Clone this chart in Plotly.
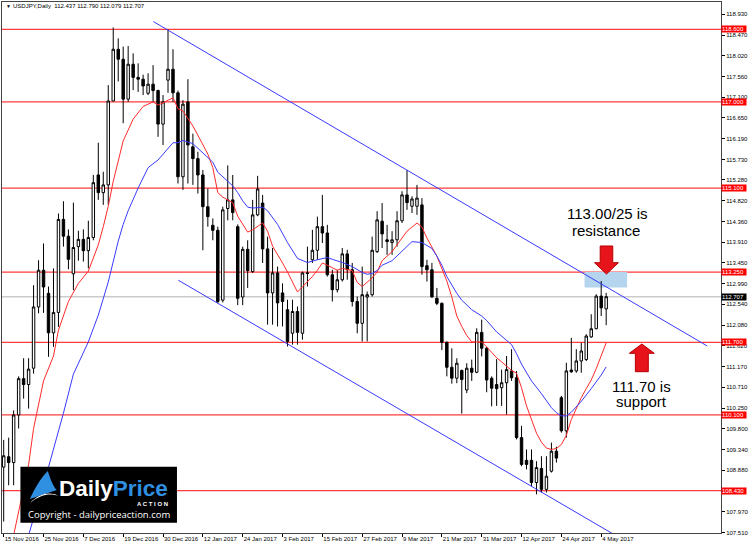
import pandas as pd
import plotly.graph_objects as go

# ---------------- data ----------------
dates = [d.strftime("%Y-%m-%d") for d in pd.bdate_range("2016-11-15", "2017-05-05")
         if d.strftime("%Y-%m-%d") not in ("2016-12-26", "2017-01-02")]

opens = [108.95, 109.18, 109.05, 110.10, 110.90, 110.77, 111.13, 112.48, 113.29, 112.78,
         111.91, 112.36, 114.41, 114.04, 113.21, 113.81, 113.97, 113.72, 114.01, 115.39,
         115.00, 115.17, 117.02, 118.16, 117.94, 117.06, 117.83, 117.54, 117.50, 117.19,
         117.39, 117.25, 116.51, 117.48, 117.72, 117.20, 115.35, 117.00, 116.01, 115.75,
         115.39, 114.69, 114.28, 114.17, 112.63, 114.65, 114.84, 114.25, 112.70, 113.75,
         113.26, 114.51, 114.77, 113.76, 112.79, 113.23, 112.79, 112.42, 111.90, 112.38,
         111.90, 113.23, 113.52, 113.73, 114.25, 114.11, 113.19, 112.86, 113.08, 113.65,
         113.30, 112.60, 112.12, 112.70, 112.75, 113.70, 114.37, 113.96, 113.90, 113.96,
         114.38, 114.95, 114.70, 114.70, 114.73, 113.39, 113.30, 112.67, 112.56, 111.70,
         111.15, 110.91, 111.08, 110.65, 111.13, 111.04, 111.92, 111.57, 110.91, 110.77,
         110.70, 110.81, 111.07, 110.92, 109.60, 109.10, 109.10, 108.61, 108.92, 108.46,
         108.86, 109.30, 110.48, 109.75, 111.09, 111.07, 111.29, 111.32, 111.82, 112.00,
         112.72, 112.437]
highs = [109.55, 109.60, 110.20, 110.95, 111.35, 111.35, 112.96, 113.51, 113.88, 112.93,
         113.33, 114.54, 114.81, 114.19, 114.78, 114.16, 114.19, 114.38, 115.39, 116.10,
         115.46, 117.37, 118.64, 118.40, 118.22, 118.23, 118.07, 117.85, 117.60, 117.63,
         117.81, 117.27, 117.15, 118.60, 118.16, 117.25, 117.04, 117.50, 116.30, 115.90,
         115.50, 115.09, 114.43, 114.25, 114.69, 115.60, 115.39, 114.30, 113.81, 113.95,
         114.84, 115.37, 114.95, 114.03, 113.78, 113.37, 113.00, 112.64, 112.64, 112.49,
         113.26, 113.81, 114.18, 114.47, 114.95, 114.29, 113.30, 113.30, 113.78, 113.74,
         113.45, 112.71, 113.37, 112.82, 114.03, 114.59, 114.77, 114.29, 114.15, 114.59,
         115.03, 115.50, 114.92, 115.17, 114.88, 113.52, 113.45, 112.90, 112.58, 111.72,
         111.57, 111.35, 111.10, 111.24, 111.32, 112.01, 112.20, 111.60, 110.95, 111.33,
         111.10, 111.40, 111.55, 111.07, 109.86, 109.34, 109.34, 109.08, 109.19, 109.19,
         109.49, 109.40, 110.52, 111.25, 111.80, 111.55, 111.69, 111.88, 112.32, 112.76,
         113.05, 112.790]
lows = [107.75, 108.55, 108.55, 109.80, 110.46, 110.24, 111.01, 112.34, 112.35, 111.38,
        111.60, 112.04, 113.81, 113.31, 112.85, 113.50, 113.48, 113.33, 113.95, 114.84,
        114.73, 114.73, 117.02, 117.45, 116.53, 117.00, 117.26, 117.22, 117.15, 117.15,
        117.00, 116.23, 116.05, 117.20, 117.00, 115.20, 115.06, 115.20, 115.17, 114.98,
        113.73, 114.25, 113.95, 112.56, 112.58, 114.39, 114.39, 112.52, 112.52, 112.90,
        113.23, 114.48, 113.45, 112.09, 112.09, 112.05, 112.05, 111.61, 111.65, 111.65,
        111.76, 112.93, 113.45, 113.52, 113.89, 113.15, 112.60, 112.80, 113.04, 113.08,
        112.49, 111.90, 111.72, 111.72, 112.71, 113.67, 113.78, 113.63, 113.63, 113.81,
        114.33, 114.62, 114.55, 114.51, 113.19, 113.04, 112.68, 112.52, 111.53, 110.95,
        110.79, 110.80, 110.13, 110.58, 110.85, 111.02, 111.39, 110.60, 110.29, 110.30,
        110.30, 110.11, 110.85, 109.56, 108.97, 108.90, 108.53, 108.35, 108.39, 108.39,
        108.83, 109.05, 109.71, 109.60, 111.03, 111.03, 111.03, 111.29, 111.80, 111.99,
        112.28, 112.079]
closes = [109.20, 109.05, 110.10, 110.90, 110.77, 111.11, 112.48, 113.29, 112.92, 111.91,
          112.36, 114.41, 114.04, 113.53, 113.79, 113.97, 113.72, 114.01, 115.22, 115.00,
          115.17, 117.02, 118.16, 117.94, 117.06, 117.83, 117.54, 117.50, 117.35, 117.39,
          117.25, 116.51, 117.00, 117.72, 117.20, 115.35, 116.95, 116.05, 115.75, 115.39,
          114.69, 114.47, 114.17, 112.60, 114.62, 114.84, 114.56, 112.67, 113.75, 113.28,
          114.51, 115.08, 113.76, 112.79, 113.23, 112.57, 112.60, 111.72, 112.38, 111.92,
          113.23, 113.22, 113.73, 114.25, 114.11, 113.19, 112.86, 113.08, 113.65, 113.30,
          112.60, 112.12, 112.75, 112.75, 113.73, 114.40, 114.09, 113.92, 113.96, 114.38,
          114.95, 114.78, 114.86, 114.88, 113.37, 113.30, 112.70, 112.56, 111.70, 111.15,
          110.91, 111.24, 110.88, 111.13, 111.04, 111.92, 111.57, 110.87, 110.69, 110.68,
          110.81, 111.10, 110.92, 109.60, 109.01, 109.01, 108.61, 108.94, 108.46, 108.75,
          109.30, 109.15, 109.75, 111.07, 111.05, 111.29, 111.51, 111.84, 112.00, 112.72,
          112.46, 112.707]

# fast (red) and slow (blue) moving averages at sample bars
ma_fast_bars = [2, 5, 6, 8, 10, 11, 13, 15, 17, 19, 20, 21, 22, 23, 24, 26, 28, 30, 31, 32,
                34, 35, 36, 38, 39, 41, 42, 43, 44, 46, 47, 49, 50, 52, 53, 54, 56, 57, 59, 60,
                62, 63, 64, 65, 67, 68, 70, 71, 72, 74, 75, 76, 78, 80, 81, 82, 83, 84, 85, 87,
                88, 89, 90, 91, 92, 93, 94, 96, 97, 99, 100, 101, 102, 103, 104, 105, 106, 107,
                108, 109, 110, 111, 112, 113, 114, 115, 116, 117, 118, 119, 120, 121]
ma_fast_vals = [107.45, 109.00, 109.80, 110.85, 111.40, 111.97, 112.60, 113.00, 113.27, 113.85,
                114.25, 114.70, 115.25, 115.72, 116.14, 116.62, 116.90, 117.00, 116.93, 116.98,
                117.09, 116.85, 116.80, 116.47, 116.27, 115.85, 115.55, 115.00, 114.90, 114.78,
                114.48, 114.13, 114.18, 114.33, 114.15, 113.82, 113.45, 113.25, 112.81, 112.92,
                113.15, 113.29, 113.45, 113.40, 113.29, 113.33, 113.28, 113.02, 112.93, 113.12,
                113.25, 113.50, 113.70, 114.00, 114.15, 114.24, 114.33, 114.24, 114.00, 113.60,
                113.33, 113.05, 112.70, 112.28, 112.05, 111.85, 111.71, 111.71, 111.60, 111.36,
                111.27, 111.18, 111.08, 111.02, 110.70, 110.30, 110.00, 109.70, 109.50, 109.37,
                109.34, 109.36, 109.45, 109.65, 110.00, 110.25, 110.48, 110.68, 110.87, 111.12,
                111.40, 111.69]
ma_slow_bars = [5, 9, 12, 14, 17, 19, 21, 23, 24, 25, 27, 29, 31, 33, 34, 35, 36, 38, 40, 42,
                43, 45, 46, 47, 48, 49, 50, 52, 53, 55, 57, 59, 60, 61, 63, 65, 66, 68, 70, 72,
                73, 74, 75, 76, 78, 80, 82, 84, 86, 87, 88, 89, 91, 92, 94, 96, 97, 99, 100, 102,
                103, 104, 106, 108, 110, 111, 112, 113, 114, 116, 118, 120, 121]
ma_slow_vals = [107.45, 108.95, 110.14, 111.00, 111.71, 112.30, 113.03, 113.93, 114.30, 114.60,
                115.10, 115.55, 115.72, 115.97, 116.10, 116.10, 116.15, 116.08, 115.88, 115.67,
                115.45, 115.24, 115.15, 115.00, 114.82, 114.68, 114.66, 114.68, 114.60, 114.30,
                113.90, 113.55, 113.50, 113.46, 113.52, 113.57, 113.53, 113.46, 113.37, 113.24,
                113.20, 113.22, 113.28, 113.40, 113.50, 113.70, 113.92, 113.90, 113.77, 113.60,
                113.40, 113.15, 112.78, 112.63, 112.42, 112.28, 112.18, 111.93, 111.83, 111.65,
                111.45, 111.22, 110.85, 110.57, 110.26, 110.15, 110.08, 110.08, 110.16, 110.40,
                110.68, 110.98, 111.16]

# channel trend lines (bar, price) end points
channel_upper_bars = [30.06, 141.3]
channel_upper_prices = [118.77, 111.62]
channel_lower_bars = [35.06, 130.0]
channel_lower_prices = [113.07, 106.99]

# horizontal support / resistance levels
levels = [118.600, 117.000, 115.100, 113.250, 111.700, 110.100, 108.430]
last_price = 112.707
zone_bars = [116.66, 125.2]
zone_prices = [112.91, 113.25]

y_ticks = [118.930, 118.470, 118.020, 117.560, 117.100, 116.650, 116.190, 115.730, 115.280,
           114.820, 114.360, 113.910, 113.450, 112.990, 112.540, 112.080, 111.620, 111.170,
           110.710, 110.250, 109.800, 109.340, 108.880, 108.430, 107.970, 107.510]
tick_dates = ["2016-11-15", "2016-11-25", "2016-12-07", "2016-12-19", "2016-12-30",
              "2017-01-12", "2017-01-24", "2017-02-03", "2017-02-15", "2017-02-27",
              "2017-03-09", "2017-03-21", "2017-03-31", "2017-04-12", "2017-04-24",
              "2017-05-04"]
tick_labels = ["15 Nov 2016", "25 Nov 2016", "7 Dec 2016", "19 Dec 2016", "30 Dec 2016",
               "12 Jan 2017", "24 Jan 2017", "3 Feb 2017", "15 Feb 2017", "27 Feb 2017",
               "9 Mar 2017", "21 Mar 2017", "31 Mar 2017", "12 Apr 2017", "24 Apr 2017",
               "4 May 2017"]
header = "USDJPY,Daily  112.437 112.790 112.079 112.707"

# ---------------- layout geometry (pixels) ----------------
W, H = 750, 547
PL, PR, PT, PB = 1, 723, 2, 533          # plot area in pixels
BAR0_PX, BAR_STEP = 2.7, 5.0             # px of bar 0, px per bar
P_REF, PY_REF, PX_PER_UNIT = 118.6, 29.3, 45.37


def bar_at(px):
    return (px - BAR0_PX) / BAR_STEP


def price_at(py):
    return P_REF - (py - PY_REF) / PX_PER_UNIT


def pxp(px):
    return (px - PL) / (PR - PL)


def pyp(py):
    return (PB - py) / (PB - PT)


def ppath(points):
    s = "M " + " L ".join(f"{pxp(x):.5f},{pyp(y):.5f}" for x, y in points) + " Z"
    return s


bars = list(range(len(dates)))
FONT = "Liberation Sans, Arial, sans-serif"

fig = go.Figure()

fig.add_trace(go.Candlestick(
    x=bars, open=opens, high=highs, low=lows, close=closes,
    increasing=dict(line=dict(color="black", width=1), fillcolor="white"),
    decreasing=dict(line=dict(color="black", width=1), fillcolor="black"),
    whiskerwidth=0, hoverinfo="skip", showlegend=False))

fig.add_trace(go.Scatter(x=ma_fast_bars, y=ma_fast_vals, mode="lines",
                         line=dict(color="#ff2a2a", width=1), hoverinfo="skip"))
fig.add_trace(go.Scatter(x=ma_slow_bars, y=ma_slow_vals, mode="lines",
                         line=dict(color="#3a3aff", width=1), hoverinfo="skip"))
fig.add_trace(go.Scatter(x=channel_upper_bars, y=channel_upper_prices, mode="lines",
                         line=dict(color="#3a3aff", width=1), hoverinfo="skip"))
fig.add_trace(go.Scatter(x=channel_lower_bars, y=channel_lower_prices, mode="lines",
                         line=dict(color="#3a3aff", width=1), hoverinfo="skip"))

shapes = []
# resistance zone
shapes.append(dict(type="rect", xref="x", yref="y", x0=zone_bars[0], x1=zone_bars[1],
                   y0=zone_prices[0], y1=zone_prices[1], fillcolor="#b5d4ee",
                   line=dict(width=0), layer="below"))
# current price line
shapes.append(dict(type="line", xref="paper", yref="y", x0=0, x1=1, y0=last_price, y1=last_price,
                   line=dict(color="#cccccc", width=1.5), layer="below"))
for lv in levels:
    shapes.append(dict(type="line", xref="paper", yref="y", x0=0, x1=1, y0=lv, y1=lv,
                       line=dict(color="#ff3b3b", width=1.2), layer="below"))

# arrows
down_arrow = [(601.7, 246), (614.3, 246), (614.3, 262.7), (620, 262.7), (608, 274),
              (596, 262.7), (601.7, 262.7)]
up_arrow = [(643.5, 344), (656, 353.3), (650, 353.3), (650, 371.7), (637, 371.7),
            (637, 353.3), (631, 353.3)]
for arr in (down_arrow, up_arrow):
    shapes.append(dict(type="path", xref="paper", yref="paper", path=ppath(arr),
                       fillcolor="#e8141c", line=dict(color="#b40000", width=1)))

# logo box
shapes.append(dict(type="rect", xref="paper", yref="paper", x0=pxp(19.5), x1=pxp(176.7),
                   y0=pyp(522.7), y1=pyp(466.7), fillcolor="black", line=dict(width=0)))
logo_blue = "M {} C {} {} {} C {} {} {} Z".format(
    f"{pxp(29):.5f},{pyp(499):.5f}",
    f"{pxp(34):.5f},{pyp(488):.5f}", f"{pxp(40):.5f},{pyp(478):.5f}", f"{pxp(47):.5f},{pyp(471):.5f}",
    f"{pxp(50):.5f},{pyp(480):.5f}", f"{pxp(52):.5f},{pyp(486):.5f}", f"{pxp(56):.5f},{pyp(490):.5f}")
shapes.append(dict(type="path", xref="paper", yref="paper", path=logo_blue,
                   fillcolor="#2f8fe0", line=dict(width=0)))
logo_white = "M {} C {} {} {} C {} {} {} Z".format(
    f"{pxp(29):.5f},{pyp(503):.5f}",
    f"{pxp(38):.5f},{pyp(494):.5f}", f"{pxp(48):.5f},{pyp(491):.5f}", f"{pxp(58):.5f},{pyp(496):.5f}",
    f"{pxp(50):.5f},{pyp(493):.5f}", f"{pxp(40):.5f},{pyp(494):.5f}", f"{pxp(29):.5f},{pyp(503):.5f}")
shapes.append(dict(type="path", xref="paper", yref="paper", path=logo_white,
                   fillcolor="white", line=dict(width=0)))

annotations = []
# header
annotations.append(dict(xref="paper", yref="paper", x=pxp(3.2), y=pyp(6), xanchor="left",
                        yanchor="middle", text="\u25bc", showarrow=False,
                        font=dict(family=FONT, size=5, color="black")))
annotations.append(dict(xref="paper", yref="paper", x=pxp(10.5), y=pyp(6), xanchor="left",
                        yanchor="middle", text=header, showarrow=False,
                        font=dict(family=FONT, size=6, color="black")))
# price labels on the right axis
for lv in levels:
    annotations.append(dict(xref="paper", yref="y", x=1, y=lv, xanchor="left", yanchor="middle",
                            text=f"{lv:.3f}", showarrow=False, bgcolor="#ff0000", borderpad=0,
                            width=24, align="left",
                            font=dict(family=FONT, size=6, color="white")))
annotations.append(dict(xref="paper", yref="y", x=1, y=last_price, xanchor="left",
                        yanchor="middle", text=f"{last_price:.3f}", showarrow=False,
                        bgcolor="black", borderpad=0, width=24, align="left",
                        font=dict(family=FONT, size=6, color="white")))
# commentary
for txt, cx, cy in (("113.00/25 is", 609, 214), ("resistance", 608, 231),
                    ("111.70 is", 643.5, 386), ("support", 643.5, 401)):
    annotations.append(dict(xref="paper", yref="paper", x=pxp(cx), y=pyp(cy), xanchor="center",
                            yanchor="middle", text=txt, showarrow=False,
                            font=dict(family=FONT, size=15, color="black")))
# logo texts
annotations.append(dict(xref="paper", yref="paper", x=pxp(56), y=pyp(488), xanchor="left",
                        yanchor="middle", showarrow=False,
                        text="<b>Daily<span style='color:#2f8fe0'>Price</span></b>",
                        font=dict(family=FONT, size=22.5, color="white")))
annotations.append(dict(xref="paper", yref="paper", x=pxp(170), y=pyp(504), xanchor="right",
                        yanchor="middle", showarrow=False, text="<b>A C T I O N</b>",
                        font=dict(family=FONT, size=6, color="white")))
annotations.append(dict(xref="paper", yref="paper", x=pxp(98), y=pyp(514.5), xanchor="center",
                        yanchor="middle", showarrow=False,
                        text="Copyright - dailypriceaction.com",
                        font=dict(family="Open Sans, sans-serif", size=9.5, color="white")))

tick_bars = [dates.index(d) for d in tick_dates]
# the axis label that sits exactly under a level label is hidden by it, as in MT4
y_ticktext = ["" if any(abs(v - lv) < 1e-9 for lv in levels) else f"{v:.3f}" for v in y_ticks]

fig.update_layout(
    width=W, height=H,
    margin=dict(l=PL, r=W - PR, t=PT, b=H - PB),
    paper_bgcolor="white", plot_bgcolor="white",
    showlegend=False, hovermode=False,
    shapes=shapes, annotations=annotations,
    xaxis=dict(range=[bar_at(PL), bar_at(PR)], tickvals=tick_bars, ticktext=tick_labels,
               tickangle=0, ticks="outside", ticklen=3, tickcolor="black",
               ticklabelposition="outside right",
               tickfont=dict(family=FONT, size=6, color="black"), showgrid=False,
               zeroline=False, showline=True, mirror=True, linecolor="#444444", linewidth=1,
               rangeslider=dict(visible=False), fixedrange=True),
    yaxis=dict(range=[price_at(PB), price_at(PT)], side="right", tickvals=y_ticks,
               ticktext=y_ticktext, ticks="outside", ticklen=3, tickcolor="black",
               tickfont=dict(family=FONT, size=6, color="black"), showgrid=False,
               zeroline=False, showline=True, mirror=True, linecolor="#444444", linewidth=1,
               fixedrange=True),
)

fig.write_html("out.html", config={"displayModeBar": False},
               post_script="document.body.style.margin='0px';document.body.style.overflow='hidden';")
